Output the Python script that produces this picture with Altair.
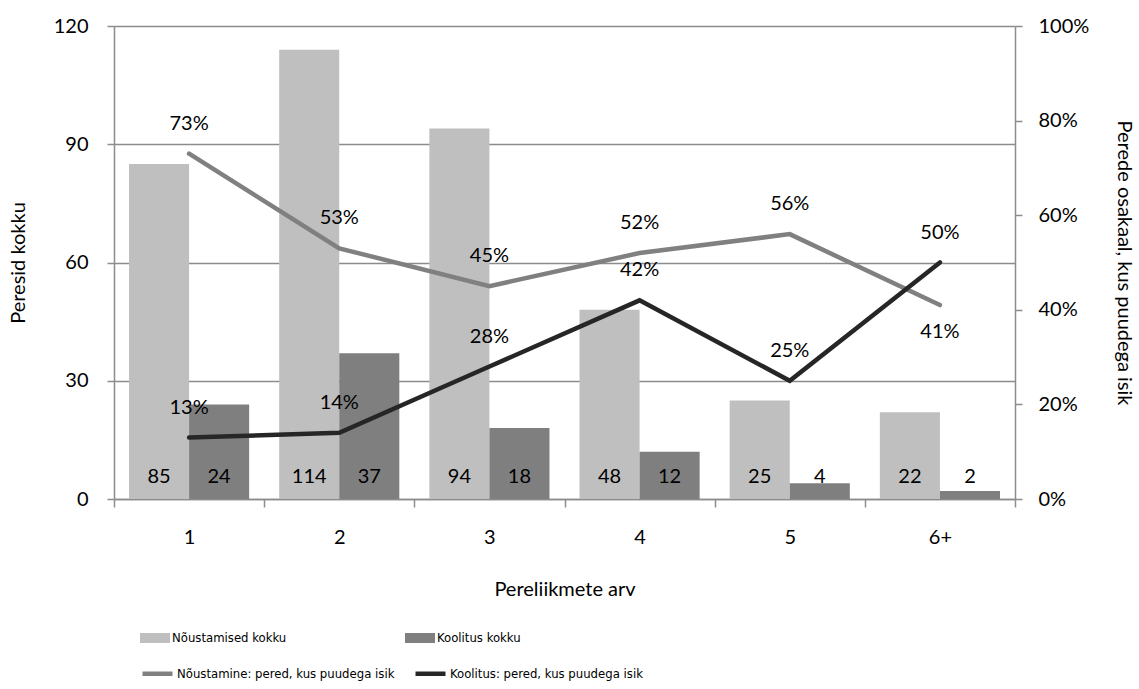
import altair as alt
import pandas as pd

# Household size categories
categories = ["1", "2", "3", "4", "5", "6+"]

# Bar series (number of families)
bar_series = ["Nõustamised kokku", "Koolitus kokku"]
noustamised_kokku = [85, 114, 94, 48, 25, 22]
koolitus_kokku = [24, 37, 18, 12, 4, 2]

# Line series (share of families with a disabled person)
line_series = ["Nõustamine: pered, kus puudega isik", "Koolitus: pered, kus puudega isik"]
noustamine_osakaal = [0.73, 0.53, 0.45, 0.52, 0.56, 0.41]
koolitus_osakaal = [0.13, 0.14, 0.28, 0.42, 0.25, 0.50]

# Percentage labels that sit under their line point instead of above it
labels_below = [("Nõustamine: pered, kus puudega isik", "6+")]

bar_colors = ["#bfbfbf", "#7f7f7f"]
line_colors = ["#808080", "#262626"]
grid_gray = "#8c8c8c"
FONT = "Lato"
LEGEND_FONT = "DejaVu Sans Condensed, Lato"

bars_df = pd.DataFrame(
    [(c, bar_series[0], v) for c, v in zip(categories, noustamised_kokku)]
    + [(c, bar_series[1], v) for c, v in zip(categories, koolitus_kokku)],
    columns=["kategooria", "seeria", "arv"],
)
lines_df = pd.DataFrame(
    [(c, line_series[0], v) for c, v in zip(categories, noustamine_osakaal)]
    + [(c, line_series[1], v) for c, v in zip(categories, koolitus_osakaal)],
    columns=["kategooria", "seeria", "osakaal"],
)
lines_df["all"] = [
    (s, c) in labels_below for s, c in zip(lines_df["seeria"], lines_df["kategooria"])
]

x_enc = alt.X(
    "kategooria:N",
    sort=categories,
    scale=alt.Scale(paddingInner=0, paddingOuter=0),
    axis=alt.Axis(
        title="Pereliikmete arv",
        tickBand="extent",
        tickSize=8,
        labelPadding=30,
        labelBaseline="middle",
        labelAngle=0,
        titleY=90,
        titleBaseline="middle",
        domainColor=grid_gray,
        tickColor=grid_gray,
        grid=False,
    ),
)

y_left = alt.Y(
    "arv:Q",
    scale=alt.Scale(domain=[0, 120]),
    axis=alt.Axis(
        title="Peresid kokku",
        values=[0, 30, 60, 90, 120],
        orient="left",
        tickSize=7,
        labelPadding=19,
        grid=True,
        gridColor=grid_gray,
        domainColor=grid_gray,
        tickColor=grid_gray,
        titleAngle=270,
        titleX=-96,
        titleY=236.5,
        titleBaseline="middle",
        titleAlign="center",
    ),
)

y_right = alt.Y(
    "osakaal:Q",
    scale=alt.Scale(domain=[0, 1]),
    axis=alt.Axis(
        title="Perede osakaal, kus puudega isik",
        values=[0, 0.2, 0.4, 0.6, 0.8, 1.0],
        format=".0%",
        orient="right",
        tickSize=7,
        labelPadding=16,
        grid=False,
        domainColor=grid_gray,
        tickColor=grid_gray,
        titleAngle=90,
        titleX=108,
        titleY=236.5,
        titleBaseline="middle",
        titleAlign="center",
    ),
)

x_off = alt.XOffset(
    "seeria:N", sort=bar_series, scale=alt.Scale(paddingInner=0, paddingOuter=0.25)
)

legend_common = dict(
    title=None,
    orient="none",
    legendX=26,
    direction="horizontal",
    symbolSize=900,
    labelFont=LEGEND_FONT,
    labelFontSize=13,
    labelColor="#000000",
    labelOffset=2,
    labelLimit=0,
    padding=0,
)

bars = alt.Chart(bars_df).mark_bar().encode(
    x=x_enc,
    xOffset=x_off,
    y=y_left,
    color=alt.Color(
        "seeria:N",
        sort=bar_series,
        scale=alt.Scale(domain=bar_series, range=bar_colors),
        legend=alt.Legend(
            legendY=597,
            symbolType="M-1,-0.333H1V0.333H-1Z",
            symbolStrokeWidth=0,
            columnPadding=118,
            **legend_common,
        ),
    ),
)

bar_text = alt.Chart(bars_df).mark_text(
    font=FONT, fontSize=20, color="#000000", baseline="middle", dy=-22
).encode(
    x=alt.X("kategooria:N", sort=categories),
    xOffset=x_off,
    y=alt.datum(0),
    text=alt.Text("arv:Q"),
)

lines = alt.Chart(lines_df).mark_line(strokeWidth=4.5, strokeCap="round", strokeJoin="miter").encode(
    x=alt.X("kategooria:N", sort=categories),
    y=y_right,
    stroke=alt.Stroke(
        "seeria:N",
        sort=line_series,
        scale=alt.Scale(domain=line_series, range=line_colors),
        legend=alt.Legend(
            legendY=630,
            symbolType="stroke",
            symbolStrokeWidth=4.5,
            columnPadding=11,
            **legend_common,
        ),
    ),
    detail="seeria:N",
)

pct_above = alt.Chart(lines_df).transform_filter("!datum.all").mark_text(
    font=FONT, fontSize=20, color="#000000", baseline="middle", dy=-30
).encode(
    x=alt.X("kategooria:N", sort=categories),
    y=alt.Y("osakaal:Q"),
    text=alt.Text("osakaal:Q", format=".0%"),
)

pct_below = alt.Chart(lines_df).transform_filter("datum.all").mark_text(
    font=FONT, fontSize=20, color="#000000", baseline="middle", dy=27
).encode(
    x=alt.X("kategooria:N", sort=categories),
    y=alt.Y("osakaal:Q"),
    text=alt.Text("osakaal:Q", format=".0%"),
)

left = alt.layer(bars, bar_text)
right = alt.layer(lines, pct_above, pct_below)

chart = (
    alt.layer(left, right)
    .resolve_scale(y="independent", color="independent")
    .properties(
        width=901,
        height=473,
        padding={"left": 114, "top": 26, "right": 124, "bottom": 190},
        autosize=alt.AutoSizeParams(type="none"),
        background="#ffffff",
    )
    .configure_view(stroke=None)
    .configure_axis(
        labelFont=FONT,
        labelFontSize=20,
        labelColor="#000000",
        titleFont=FONT,
        titleFontSize=20,
        titleFontWeight="normal",
        titleColor="#000000",
        domainWidth=1.5,
        tickWidth=1.5,
        gridWidth=1.5,
    )
)

chart.save("out.html", embed_options={"renderer": "svg", "actions": False})
